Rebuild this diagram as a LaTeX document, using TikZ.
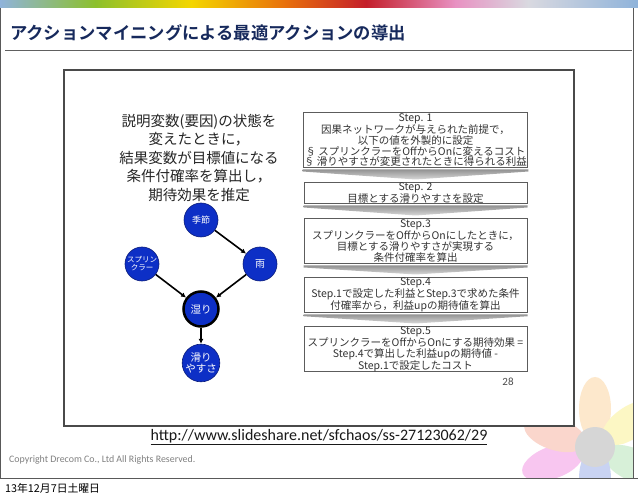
\documentclass[tikz,border=0pt]{standalone}
\usepackage{fontspec}
\setmainfont{Carlito}
\newfontfamily\jpfont{Noto Sans CJK JP}[BoldFont={Noto Sans CJK JP Bold}]
\usepackage{tikz}
\usetikzlibrary{positioning,arrows.meta,calc}
\usepackage{xcolor}
\definecolor{titleNavy}{HTML}{16295C}
\definecolor{nodeBlue}{HTML}{0D2FC6}
\definecolor{nodeEdge}{HTML}{0A1C7A}
\definecolor{frameGray}{HTML}{4A4A4A}
\definecolor{boxGray}{HTML}{5C5C5C}
\definecolor{textGray}{HTML}{333333}
\definecolor{barBlue}{HTML}{8FB3DA}
\definecolor{barGreen}{HTML}{8CC02C}
\definecolor{barYellow}{HTML}{F4D600}
\definecolor{barOrange}{HTML}{E8700C}
\definecolor{barRed}{HTML}{C41E2A}
\definecolor{barPink}{HTML}{E891C2}
\definecolor{barLight}{HTML}{D9D9E0}
\definecolor{petalPeach}{HTML}{FDE8CC}
\definecolor{petalYellow}{HTML}{FCF7C4}
\definecolor{petalGreen}{HTML}{D7F0D8}
\definecolor{petalBlue}{HTML}{C9D3F2}
\definecolor{petalPink}{HTML}{F8C6F0}
\definecolor{petalSalmon}{HTML}{FAD6CC}
\definecolor{hubGray}{HTML}{D6D6D6}

\begin{document}
\begin{tikzpicture}[
    x=1pt, y=-1pt,
    stepBox/.style={rectangle, draw=boxGray, line width=1pt, fill=white, minimum width=223pt, inner xsep=1pt, inner ysep=0pt, align=center, anchor=north, text=textGray, font=\jpfont\fontsize{10.5}{10.8}\selectfont},
    causeNode/.style={circle, fill=nodeBlue, draw=nodeEdge, line width=0.6pt, minimum size=34pt, inner sep=0pt, text=white, align=center, font=\jpfont\fontsize{9}{9.5}\selectfont},
    arrowStyle/.style={-{Latex[length=5pt,width=5pt]}, line width=1.6pt, draw=black},
    chevronStyle/.style={top color=gray!85, bottom color=gray!30, draw=none}
]
    \useasboundingbox (0,0) rectangle (638,497);
    \fill[white] (0,0) rectangle (638,497);

    \foreach \xa/\xb/\ca/\cb in {0/95/barBlue/barGreen, 95/191/barGreen/barYellow, 191/285/barYellow/barOrange, 285/366/barOrange/barRed, 366/455/barRed/barPink, 455/528/barPink/barLight, 528/638/barLight/barBlue}
        \shade[left color=\ca, right color=\cb] (\xa,0) rectangle (\xb+0.4,8);

    \begin{scope}
        \clip (0,0) rectangle (633,478);
        \foreach \a/\d/\c in {90/38/petalPeach, 35/42/petalYellow, -25/42/petalGreen, -90/32/petalBlue, 200/45/petalPink, 162/42/petalSalmon}{
            \begin{scope}[shift={(595,447)}, rotate=\a]
                \fill[\c] (\d,0) ellipse [x radius=32, y radius=16];
            \end{scope}
        }
        \fill[hubGray] (595,447) circle (20);
    \end{scope}
    \draw[gray!70!black, line width=0.8pt] (0.5,8) -- (0.5,478) -- (633,478) -- (633,8);
    \draw[gray!70!black, line width=0.8pt] (0,478) -- (638,478);

    \node[anchor=west, inner sep=0pt, text=titleNavy, font=\jpfont\bfseries\fontsize{17.3}{20}\selectfont] (title) at (10,33) {アクションマイニングによる最適アクションの導出};
    \draw[gray!75!black, line width=0.8pt] (5,50) -- (632,50);

    \node[rectangle, draw=frameGray, fill=white, line width=2pt, minimum width=510pt, minimum height=356pt, anchor=north west] (frame) at (63,69) {};

    \node[anchor=north, inner sep=0pt, align=center, text=black!85, font=\jpfont\fontsize{14.5}{18.5}\selectfont] (explain) at (199,114) {%
        説明変数(要因)の状態を\\%
        変えたときに，\\%
        結果変数が目標値になる\\%
        条件付確率を算出し，\\%
        期待効果を推定%
    };

    \node[causeNode] (season) at (201,220) {季節};
    \node[causeNode, font=\jpfont\fontsize{7.5}{8}\selectfont] (sprinkler) at (142,264) {スプリン\\クラー};
    \node[causeNode, font=\jpfont\fontsize{10}{10}\selectfont] (rain) at (260,264) {雨};
    \node[causeNode, draw=black, line width=2.5pt, minimum size=35pt, font=\jpfont\fontsize{10.5}{10.5}\selectfont] (wet) at (201,309) {湿り};
    \node[causeNode, font=\jpfont\fontsize{10.5}{11.5}\selectfont] (slip) at (201,363) {滑り\\やすさ};

    \draw[arrowStyle] (season) -- (rain);
    \draw[arrowStyle] (sprinkler) -- (wet);
    \draw[arrowStyle] (rain) -- (wet);
    \draw[arrowStyle] (wet) -- (slip);

    \node[stepBox, minimum height=55pt] (step1) at (415.5,112) {%
        Step. 1\\%
        因果ネットワークが与えられた前提で，\\%
        以下の値を外製的に設定\\%
        § スプリンクラーをOffからOnに変えるコスト\\%
        § 滑りやすさが変更されたときに得られる利益%
    };
    \node[stepBox, minimum height=21pt] (step2) at (415.5,182) {%
        Step. 2\\%
        目標とする滑りやすさを設定%
    };
    \node[stepBox, minimum height=45pt] (step3) at (415.5,218) {%
        Step.3\\%
        スプリンクラーをOffからOnにしたときに，\\%
        目標とする滑りやすさが実現する\\%
        条件付確率を算出%
    };
    \node[stepBox, minimum height=33pt] (step4) at (415.5,277) {%
        Step.4\\%
        Step.1で設定した利益とStep.3で求めた条件\\%
        付確率から，利益upの期待値を算出%
    };
    \node[stepBox, minimum height=44pt] (step5) at (415.5,326) {%
        Step.5\\%
        スプリンクラーをOffからOnにする期待効果 =\\%
        Step.4で算出した利益upの期待値 -\\%
        Step.1で設定したコスト%
    };

    \foreach \upBox/\lowBox in {step1/step2, step2/step3, step3/step4, step4/step5}
        \shade[chevronStyle] ($(\upBox.south west)+(0,1.5)$) -- ($(\upBox.south east)+(0,1.5)$) -- ($(\upBox.south east)+(0,3.5)$) -- ($(\lowBox.north)+(0,-2.5)$) -- ($(\upBox.south west)+(0,3.5)$) -- cycle;

    \node[text=black!70, font=\fontsize{11}{12}\selectfont] (pageNo) at (508,382) {28};

    \node[inner sep=0pt, text=black!90, font=\fontsize{16}{18}\selectfont] (url) at (319,437) {\underline{http://www.slideshare.net/sfchaos/ss-27123062/29}};
    \node[anchor=west, inner sep=0pt, text=black!50, font=\fontsize{9.9}{11}\selectfont] (copyright) at (9,460) {Copyright Drecom Co., Ltd All Rights Reserved.};
    \node[anchor=west, inner sep=0pt, text=black, font=\jpfont\fontsize{10.8}{12}\selectfont] (date) at (5,488) {13年12月7日土曜日};
\end{tikzpicture}
\end{document}
